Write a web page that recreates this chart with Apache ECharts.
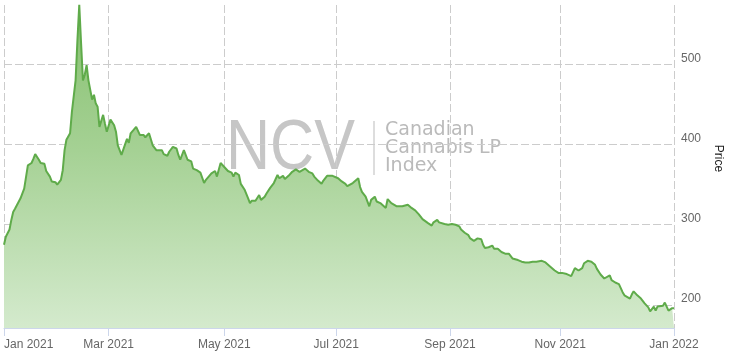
<!DOCTYPE html>
<html>
<head>
<meta charset="utf-8">
<script src="https://cdn.jsdelivr.net/npm/echarts@6/dist/echarts.min.js"></script>
<style>
html,body{margin:0;padding:0;background:#fff;}
#chart{width:729px;height:364px;}
</style>
</head>
<body>
<div id="chart"></div>
<script>
// Day offsets from 1 Jan 2021 (position along the year)
var dayIndex = [
  0,1,3,4,5,6,7,9,10,11,
  13,15,16,17,19,20,22,23,25,26,
  28,29,31,32,33,34,36,37,39,40,
  41,42,43,44,45,46,48,49,50,51,
  52,54,55,56,58,60,61,62,64,65,
  67,68,69,70,72,73,74,76,77,79,
  80,81,83,84,86,87,89,90,92,94,
  95,96,98,99,100,102,103,105,107,109,
  110,111,113,114,115,116,118,120,122,124,
  125,126,128,129,131,133,134,135,137,139,
  140,142,143,145,147,149,150,152,153,155,
  157,159,161,162,164,166,168,169,171,173,
  174,176,179,180,182,184,186,187,188,190,
  191,193,194,195,197,199,200,202,203,205,
  206,208,209,211,212,214,215,217,218,220,
  222,224,226,228,229,231,233,234,236,237,
  238,240,242,244,246,248,249,251,253,254,
  256,258,260,261,262,264,266,267,269,271,
  273,275,277,278,280,282,284,286,288,290,
  291,293,295,297,298,300,302,304,306,307,
  309,311,312,313,315,316,318,320,322,323,
  325,327,328,330,331,333,334,335,337,338,
  339,341,342,343,345,347,349,351,352,354,
  355,356,357,359,360,362,363,364,365
];
// Index price
var price = [
  275,285,294,306,316,320,321,333,335,345,
  374,377,382,388,381,377,376,367,360,354,
  353,350,356,368,393,406,414,441,480,530,
  574,526,480,487,499,480,456,462,451,447,
  422,437,426,416,431,424,416,399,387,386,
  407,402,414,416,422,424,412,412,409,414,
  412,399,393,394,393,388,386,391,397,395,
  387,381,393,392,381,379,370,368,365,352,
  356,356,364,362,367,360,377,372,367,365,
  360,365,362,351,344,333,327,330,330,337,
  331,335,339,346,352,362,358,361,357,361,
  366,369,366,368,370,366,364,360,355,351,
  355,361,361,360,358,354,351,348,347,352,
  351,358,347,341,335,323,331,335,329,327,
  326,321,332,327,325,323,321,323,325,325,
  321,318,313,307,305,302,299,303,306,303,
  301,301,300,301,300,298,294,290,287,283,
  280,283,282,275,271,272,274,270,270,266,
  264,264,258,257,256,254,253,253,254,254,
  256,255,253,249,247,243,240,240,239,239,
  236,246,248,243,246,252,255,254,250,245,
  238,233,234,237,231,228,227,226,216,212,
  213,208,213,217,212,208,202,197,192,198,
  193,198,196,199,203,193,195,196,196
];
var tickDays = [0, 57, 120, 181, 243, 303, 365];
var tickLabels = ['Jan 2021','Mar 2021','May 2021','Jul 2021','Sep 2021','Nov 2021','Jan 2022'];
var yTicks = [200, 300, 400, 500];

var seriesData = dayIndex.map(function (d, i) { return [d, price[i]]; });

var chart = echarts.init(document.getElementById('chart'));
var gridLine = { show: true, lineStyle: { color: '#cccccc', width: 1, type: [8, 3] } };

chart.setOption({
  animation: false,
  backgroundColor: '#ffffff',
  grid: { left: 4, right: 55, top: 5, bottom: 36, containLabel: false, outerBoundsMode: 'none' },
  xAxis: {
    type: 'value',
    min: 0,
    max: 365,
    axisLine: { show: true, lineStyle: { color: '#ccd6eb', width: 1 } },
    axisTick: { show: true, customValues: tickDays, length: 8, lineStyle: { color: '#ccd6eb' } },
    axisLabel: {
      customValues: tickDays,
      color: '#666666',
      fontSize: 12,
      fontFamily: 'Liberation Sans, Arial, sans-serif',
      margin: 11,
      alignMinLabel: 'left',
      formatter: function (v) {
        var i = tickDays.indexOf(v);
        return i >= 0 ? tickLabels[i] : '';
      }
    },
    splitLine: gridLine
  },
  yAxis: {
    type: 'value',
    position: 'right',
    min: 171.3,
    max: 573.9,
    axisLine: { show: false },
    axisTick: { show: false, customValues: yTicks },
    axisLabel: {
      customValues: yTicks,
      color: '#666666',
      fontSize: 12,
      fontFamily: 'Liberation Sans, Arial, sans-serif',
      margin: 7,
      verticalAlign: 'bottom'
    },
    splitLine: gridLine,
    name: 'Price',
    nameLocation: 'middle',
    nameRotate: -90,
    nameGap: 37,
    nameTextStyle: {
      color: '#222222',
      fontSize: 12,
      fontFamily: 'Liberation Sans, Arial, sans-serif',
      padding: [0, 16, 0, 0]
    }
  },
  graphic: [
    {
      type: 'group',
      z: 0,
      silent: true,
      children: [
        {
          type: 'text',
          x: 226, y: 149,
          scaleX: 0.86,
          style: {
            text: 'NCV',
            fontSize: 71,
            fontFamily: 'Liberation Sans, Arial, sans-serif',
            fill: '#c6c6c6',
            verticalAlign: 'middle',
            align: 'left'
          }
        },
        {
          type: 'line',
          shape: { x1: 374, y1: 121, x2: 374, y2: 175 },
          style: { stroke: '#d2d2d2', lineWidth: 1.5 }
        },
        {
          type: 'text',
          x: 385, y: 121,
          style: {
            text: 'Canadian\nCannabis LP\nIndex',
            fontSize: 19,
            lineHeight: 18,
            fontFamily: 'DejaVu Sans, sans-serif',
            fill: '#bababa',
            verticalAlign: 'top',
            align: 'left'
          }
        }
      ]
    }
  ],
  series: [
    {
      type: 'line',
      data: seriesData,
      showSymbol: false,
      smooth: false,
      lineStyle: { color: '#5fab4a', width: 2 },
      itemStyle: { color: '#5fab4a' },
      areaStyle: {
        opacity: 1,
        color: new echarts.graphic.LinearGradient(0, 0, 0, 1, [
          { offset: 0, color: '#86c06f' },
          { offset: 0.45, color: '#a5d194' },
          { offset: 1, color: '#d4eacd' }
        ])
      },
      z: 3
    }
  ]
});
</script>
</body>
</html>
